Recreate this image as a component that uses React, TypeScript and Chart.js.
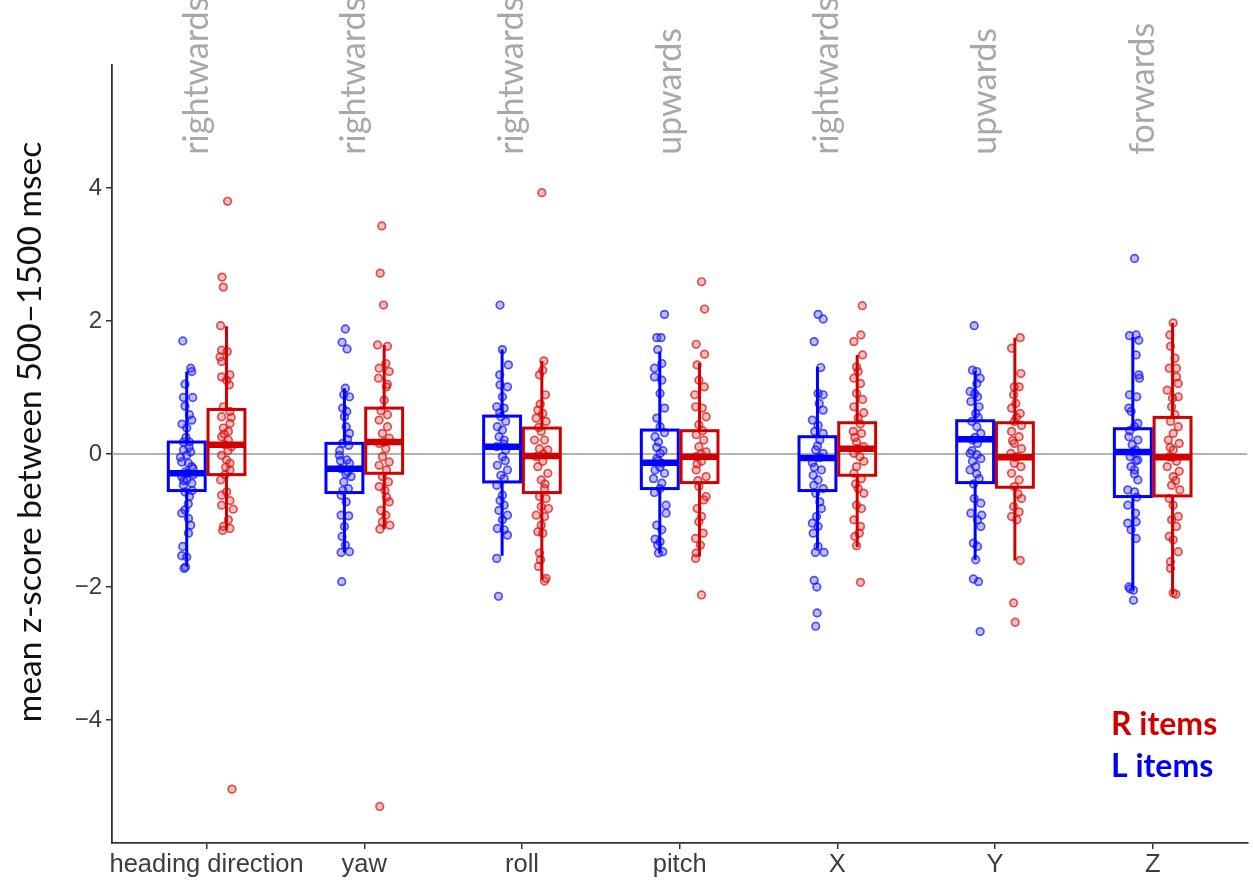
import React, { useEffect, useRef } from 'react';
import { Chart, registerables } from 'chart.js';

Chart.register(...registerables);

// ---------------- data ----------------
const categories = ['heading direction', 'yaw', 'roll', 'pitch', 'X', 'Y', 'Z'];
const directionLabels = ['rightwards', 'rightwards', 'rightwards', 'upwards', 'rightwards', 'upwards', 'forwards'];
const yTickValues = [-4, -2, 0, 2, 4];
const yAxisTitle = 'mean z-score between 500–1500 msec';
const legendR = 'R items';
const legendL = 'L items';

// box statistics per category (L items = blue, R items = red)
const lLow = [-1.69, -1.48, -1.53, -1.49, -1.42, -1.59, -2.05];
const lQ1 = [-0.55, -0.58, -0.42, -0.52, -0.55, -0.43, -0.64];
const lMed = [-0.29, -0.22, 0.11, -0.13, -0.06, 0.22, 0.03];
const lQ3 = [0.18, 0.16, 0.57, 0.36, 0.26, 0.5, 0.38];
const lHigh = [1.24, 0.99, 1.57, 1.54, 1.31, 1.25, 1.76];

const rLow = [-1.14, -1.13, -1.89, -1.54, -1.4, -1.6, -2.11];
const rQ1 = [-0.31, -0.29, -0.58, -0.43, -0.32, -0.5, -0.63];
const rMed = [0.14, 0.18, -0.03, -0.04, 0.08, -0.05, -0.05];
const rQ3 = [0.67, 0.69, 0.39, 0.35, 0.47, 0.47, 0.55];
const rHigh = [1.92, 1.64, 1.4, 1.37, 1.49, 1.75, 1.97];

// jittered points: [horizontal jitter (category units), value]
const headingL: [number, number][] = [
  [-0.025, 1.7], [0.025, 1.29], [0.032, 1.24], [-0.011, 1.05], [-0.021, 0.85], [0.038, 0.85], [-0.011, 0.72],
  [0.017, 0.59], [0.032, 0.51], [0, 0.39], [-0.021, 0.18], [0.017, 0.18], [-0.021, 0.06], [0.025, 0.03],
  [0, -0.02], [-0.032, -0.12], [0.011, -0.14], [0.032, -0.19], [-0.011, -0.27], [-0.032, -0.34], [0.042, -0.31],
  [0, -0.39], [-0.021, -0.47], [0.032, -0.44], [-0.011, -0.57], [0.017, -0.64], [-0.011, -0.84], [-0.032, -0.89],
  [0.011, -0.97], [0.025, -1.07], [0.011, -1.19], [-0.025, -1.39], [-0.032, -1.53], [0, -1.55], [-0.017, -1.72],
  [-0.008, -1.7], [0.04, -0.22], [-0.04, -0.05], [0.004, -0.29], [0.015, 0.1], [-0.005, 0.25], [0.035, -0.55],
  [-0.02, -0.4], [0.01, -0.75], [-0.03, 0.45],
];
const headingR: [number, number][] = [
  [-0.037, 1.93], [-0.02, 2.51], [-0.028, 2.66], [0.007, 3.8], [0.035, -5.04], [-0.031, 1.56], [0.005, 1.54],
  [-0.041, 1.46], [-0.031, 1.39], [-0.031, 1.16], [0.022, 1.19], [0.001, 1.11], [0.018, 1.04], [-0.02, 0.71],
  [0.022, 0.64], [-0.031, 0.56], [0.022, 0.46], [-0.02, 0.39], [0.012, 0.34], [-0.031, 0.26], [0.012, 0.21],
  [-0.009, 0.14], [0.033, 0.11], [-0.031, -0.02], [0.001, -0.09], [0.022, -0.14], [-0.037, -0.39], [0.022, -0.24],
  [-0.009, -0.31], [0.001, -0.57], [-0.031, -0.62], [0.022, -0.7], [-0.031, -0.77], [0.043, -0.83], [0.012, -0.99],
  [-0.02, -1.09], [0.022, -1.12], [-0.024, -1.15], [0.01, 0.05], [-0.015, 0.3], [0.03, 0.55], [-0.005, -0.2],
];
const yawL: [number, number][] = [
  [0.006, 1.88], [-0.015, 1.68], [0.017, 1.58], [0.006, 0.99], [-0.004, 0.89], [0.032, 0.86], [-0.011, 0.69],
  [0.015, 0.64], [0, 0.56], [0.011, 0.41], [0.032, 0.31], [-0.011, 0.16], [0.027, 0.13], [-0.032, -0.02],
  [0.015, -0.09], [0.032, -0.14], [-0.021, -0.22], [0.021, -0.27], [0.042, -0.34], [-0.004, -0.42], [0.025, -0.52],
  [-0.021, -0.62], [0.011, -0.72], [-0.021, -0.92], [0.027, -0.93], [0, -1.09], [-0.015, -1.24], [0.006, -1.37],
  [-0.021, -1.48], [0.032, -1.47], [-0.017, -1.92], [-0.03, 0.05], [0.01, -0.3], [-0.01, -0.55], [0.02, 0.22],
  [-0.025, -0.1],
];
const yawR: [number, number][] = [
  [-0.004, 2.24], [-0.025, 2.72], [-0.015, 3.43], [-0.028, -5.3], [-0.042, 1.64], [0.021, 1.62], [0.011, 1.36],
  [-0.032, 1.29], [0.032, 1.24], [-0.036, 1.14], [0.015, 1.01], [0, 0.81], [0.021, 0.59], [-0.032, 0.51],
  [0.021, 0.41], [-0.011, 0.31], [0.032, 0.24], [-0.032, 0.16], [0.011, 0.08], [-0.011, -0.04], [0.032, -0.12],
  [-0.032, -0.17], [0.015, -0.24], [-0.011, -0.34], [0.027, -0.42], [-0.032, -0.49], [0.015, -0.65], [0.032, -0.72],
  [-0.021, -0.85], [0.011, -0.92], [-0.011, -1.02], [0.036, -1.07], [-0.027, -1.13], [0, 0.18], [-0.02, 0.65],
  [0.02, 1.05], [0.005, -0.55],
];
const rollL: [number, number][] = [
  [-0.013, 2.24], [0.002, 1.57], [0.04, 1.34], [-0.015, 1.19], [-0.013, 1.04], [0.034, 1.01], [0.002, 0.86],
  [-0.034, 0.71], [0.013, 0.69], [-0.008, 0.56], [0.023, 0.49], [-0.03, 0.41], [0.002, 0.36], [-0.019, 0.26],
  [0.013, 0.21], [-0.034, 0.11], [0.023, 0.06], [0.002, -0.04], [-0.03, -0.17], [0.034, -0.24], [-0.008, -0.32],
  [0.013, -0.37], [-0.034, -0.47], [0.002, -0.62], [-0.013, -0.7], [0.013, -0.77], [0.034, -0.92], [0.002, -0.99],
  [-0.03, -1.12], [0.013, -1.14], [0.034, -1.22], [-0.034, -1.57], [-0.023, -2.14], [0.01, 0.15], [-0.015, 0.62],
  [0.02, -0.1], [-0.02, -0.85],
];
const rollR: [number, number][] = [
  [0, 3.93], [0.013, 1.4], [-0.015, 1.19], [0.006, 1.26], [0.023, 0.89], [-0.025, 0.66], [0.006, 0.61],
  [-0.036, 0.54], [0.027, 0.49], [-0.004, 0.34], [-0.046, 0.21], [0.017, 0.21], [-0.015, 0.08], [0.038, 0.06],
  [-0.036, -0.04], [0.006, -0.11], [-0.025, -0.19], [0.038, -0.29], [-0.004, -0.39], [0.017, -0.52], [-0.015, -0.64],
  [0.027, -0.67], [-0.004, -0.79], [0.042, -0.82], [-0.036, -0.92], [0.017, -0.94], [-0.004, -1.07], [-0.025, -1.17],
  [0.006, -1.19], [-0.015, -1.49], [-0.008, -1.59], [-0.021, -1.69], [0.027, -1.87], [0.017, -1.91], [0.01, 0],
  [-0.02, 0.4], [0.02, -0.45], [-0.01, 0.75],
];
const pitchL: [number, number][] = [
  [0.03, 2.1], [-0.019, 1.75], [0.008, 1.75], [-0.013, 1.57], [0.013, 1.36], [-0.034, 1.29], [-0.034, 1.16],
  [0.013, 1.11], [0.002, 0.91], [0.03, 0.69], [-0.019, 0.54], [0.002, 0.41], [0.03, 0.32], [-0.03, 0.26],
  [-0.008, 0.18], [0.002, 0.01], [-0.019, -0.07], [0.013, -0.14], [-0.03, -0.24], [0.03, -0.29], [-0.04, -0.37],
  [0.013, -0.44], [0.002, -0.52], [-0.034, -0.58], [0.04, -0.77], [0.04, -0.89], [-0.019, -1.07], [0.013, -1.14],
  [-0.03, -1.28], [0.002, -1.32], [-0.013, -1.37], [-0.008, -1.49], [0.019, -1.47], [-0.01, -0.1], [0.02, 0.05],
  [0, -0.2], [-0.02, 0.1],
];
const pitchR: [number, number][] = [
  [0.013, 2.59], [0.032, 2.18], [-0.021, 1.65], [0.032, 1.5], [-0.015, 1.34], [-0.004, 1.11], [0.03, 1.01],
  [-0.03, 0.89], [0.017, 0.69], [-0.025, 0.71], [0.042, 0.56], [-0.004, 0.44], [-0.021, 0.29], [0.027, 0.21],
  [-0.004, 0.11], [0.042, 0.03], [-0.021, -0.04], [0.013, -0.11], [-0.021, -0.24], [0.042, -0.34], [-0.004, -0.49],
  [0.042, -0.64], [0.027, -0.69], [-0.015, -0.82], [0.013, -0.94], [-0.004, -1.02], [0.023, -1.19], [-0.025, -1.27],
  [0.006, -1.37], [-0.021, -1.49], [-0.025, -1.57], [0.013, -2.12], [0.01, 0], [-0.015, -0.15], [0.02, 0.35],
  [-0.01, -0.4],
];
const xL: [number, number][] = [
  [0.004, 2.1], [0.036, 2.03], [-0.021, 1.69], [0.021, 1.3], [0.004, 0.91], [0.036, 0.89], [0.011, 0.76],
  [0.036, 0.66], [-0.032, 0.51], [0.004, 0.43], [-0.017, 0.34], [0.036, 0.31], [0.015, 0.21], [-0.011, 0.06],
  [0.036, 0.01], [0.004, -0.05], [-0.032, -0.13], [0.025, -0.24], [-0.027, -0.32], [0.004, -0.39], [-0.023, -0.47],
  [0.036, -0.52], [-0.011, -0.59], [0.015, -0.72], [0.025, -0.82], [-0.006, -0.94], [-0.032, -1.04], [0.004, -1.09],
  [-0.027, -1.19], [0.004, -1.39], [-0.013, -1.48], [0.042, -1.48], [-0.021, -1.9], [-0.004, -2.0], [-0.002, -2.39],
  [-0.011, -2.59], [0, 0.12], [-0.02, -0.2], [0.02, -0.05],
];
const xR: [number, number][] = [
  [0.032, 2.23], [0.023, 1.79], [-0.021, 1.69], [0.034, 1.49], [-0.004, 1.31], [0.006, 1.24], [-0.021, 1.14],
  [0.021, 1.06], [-0.004, 0.91], [0.034, 0.82], [-0.021, 0.71], [0.042, 0.62], [0.006, 0.54], [-0.025, 0.34],
  [0.027, 0.31], [-0.004, 0.18], [0.042, 0.11], [-0.021, 0.01], [0.017, -0.04], [0.042, -0.11], [-0.004, -0.19],
  [-0.021, -0.29], [0.027, -0.37], [0.006, -0.52], [0.042, -0.59], [-0.004, -0.77], [0.027, -0.82], [-0.021, -0.99],
  [0.021, -1.09], [0.013, -1.19], [-0.015, -1.24], [-0.004, -1.38], [0.021, -1.93], [0, 0.08], [-0.015, 0.25],
  [0.02, 0.45], [-0.01, -0.45],
];
const yL: [number, number][] = [
  [-0.006, 1.93], [-0.017, 1.26], [0.011, 1.24], [0.032, 1.14], [0.011, 1.06], [-0.032, 0.94], [-0.002, 0.91],
  [0.015, 0.86], [-0.027, 0.79], [0.025, 0.71], [0.004, 0.61], [-0.021, 0.49], [0.011, 0.41], [0.036, 0.31],
  [-0.017, 0.21], [0.015, 0.16], [-0.032, 0.01], [0.011, -0.01], [0.036, -0.07], [-0.017, -0.11], [0.004, -0.19],
  [-0.032, -0.24], [0.025, -0.37], [-0.006, -0.67], [0.036, -0.74], [-0.027, -0.89], [0.042, -0.92], [0.015, -0.99],
  [0.036, -1.09], [-0.011, -1.34], [0.015, -1.39], [0.004, -1.59], [-0.011, -1.88], [0.021, -1.92], [0.032, -2.67],
  [0, 0.25], [-0.02, 0.05], [0.01, -0.3], [0.02, 0.55], [-0.01, -0.45],
];
const yR: [number, number][] = [
  [0.034, 1.75], [-0.021, 1.59], [0.038, 1.21], [-0.004, 1.01], [0.027, 1.01], [-0.008, 0.89], [0.006, 0.76],
  [-0.021, 0.69], [0.034, 0.61], [-0.004, 0.49], [0.042, 0.43], [-0.021, 0.34], [0.027, 0.26], [-0.004, 0.16],
  [0.042, 0.08], [-0.025, 0.01], [0.017, -0.04], [-0.004, -0.14], [0.038, -0.19], [-0.021, -0.29], [0.027, -0.39],
  [-0.004, -0.49], [0.042, -0.67], [-0.008, -0.79], [0.027, -0.87], [-0.021, -0.94], [0.013, -0.99], [0.034, -1.6],
  [-0.008, -2.24], [0.002, -2.53], [0, -0.05], [-0.015, 0.2], [0.02, -0.6], [0.01, 0.55],
];
const zL: [number, number][] = [
  [0.011, 2.94], [-0.021, 1.78], [0.021, 1.79], [0.038, 1.71], [0.021, 1.49], [0.038, 1.19], [0.042, 1.14],
  [-0.021, 0.89], [0.025, 0.86], [-0.025, 0.69], [-0.011, 0.64], [0.032, 0.46], [0.011, 0.41], [-0.025, 0.26],
  [0.032, 0.21], [-0.004, 0.14], [0.017, 0.06], [-0.017, -0.04], [0.032, -0.09], [-0.011, -0.19], [0.011, -0.24],
  [0.032, -0.39], [-0.032, -0.54], [0.011, -0.57], [0.025, -0.65], [-0.032, -0.77], [0.017, -0.89], [0.021, -1.02],
  [-0.032, -1.04], [-0.011, -1.14], [0.021, -1.27], [-0.025, -2.0], [-0.017, -2.03], [0.004, -2.05], [0.004, -2.2],
  [0, 0.03], [-0.02, 0.35], [0.01, -0.3], [0.02, -0.1],
];
const zR: [number, number][] = [
  [0.004, 1.97], [-0.017, 1.79], [-0.013, 1.62], [0.015, 1.44], [-0.021, 1.29], [0.025, 1.29], [0.025, 1.16],
  [0.036, 1.06], [-0.034, 0.96], [0, 0.84], [0.036, 0.86], [-0.006, 0.71], [0.015, 0.59], [-0.013, 0.49],
  [0.036, 0.41], [0.004, 0.31], [-0.027, 0.21], [0.042, 0.16], [0.004, 0.06], [-0.021, -0.04], [0.025, -0.11],
  [-0.034, -0.19], [0.042, -0.26], [0.004, -0.34], [-0.006, -0.47], [0.046, -0.54], [-0.021, -0.67], [0.004, -0.77],
  [0.036, -0.94], [-0.006, -0.99], [0.025, -1.09], [-0.021, -1.24], [0.004, -1.29], [0.036, -1.47], [-0.013, -1.62],
  [-0.013, -1.72], [0.004, -2.09], [0.021, -2.11], [0, -0.05], [-0.015, 0.1], [0.02, -0.4],
];

const pointsL = [headingL, yawL, rollL, pitchL, xL, yL, zL];
const pointsR = [headingR, yawR, rollR, pitchR, xR, yR, zR];

// ---------------- styling ----------------
const BLUE = '#0000FF';
const RED = '#D00000';
const DODGE = 0.126;
const BOX_W = 0.234;

const groups = [
  { offset: -DODGE, color: BLUE, low: lLow, q1: lQ1, med: lMed, q3: lQ3, high: lHigh },
  { offset: DODGE, color: RED, low: rLow, q1: rQ1, med: rMed, q3: rQ3, high: rHigh },
];

const toXY = (sets: [number, number][][], offset: number) =>
  sets.flatMap((pts, i) => pts.map(([dx, v]) => ({ x: i + 1 + offset + dx, y: v })));

const fmtMinus = (v: number) => (v < 0 ? '\u2212' + Math.abs(v) : String(v));

const boxPlugin = {
  id: 'boxesAndText',
  beforeDatasetsDraw(chart: any) {
    const { ctx, chartArea, scales } = chart;
    const y0 = scales.y.getPixelForValue(0);
    ctx.save();
    ctx.strokeStyle = '#9a9a9a';
    ctx.lineWidth = 1.5;
    ctx.beginPath();
    ctx.moveTo(chartArea.left, y0);
    ctx.lineTo(chartArea.right, y0);
    ctx.stroke();
    ctx.restore();
  },
  afterDatasetsDraw(chart: any) {
    const { ctx, scales } = chart;
    const xs = scales.x;
    const ys = scales.y;
    ctx.save();
    groups.forEach((g) => {
      categories.forEach((_, i) => {
        const c = i + 1 + g.offset;
        const cx = xs.getPixelForValue(c);
        const xl = xs.getPixelForValue(c - BOX_W / 2);
        const xr = xs.getPixelForValue(c + BOX_W / 2);
        const pLow = ys.getPixelForValue(g.low[i]);
        const pQ1 = ys.getPixelForValue(g.q1[i]);
        const pMed = ys.getPixelForValue(g.med[i]);
        const pQ3 = ys.getPixelForValue(g.q3[i]);
        const pHigh = ys.getPixelForValue(g.high[i]);
        ctx.strokeStyle = g.color;
        ctx.lineWidth = 3;
        ctx.beginPath();
        ctx.moveTo(cx, pHigh);
        ctx.lineTo(cx, pQ3);
        ctx.moveTo(cx, pQ1);
        ctx.lineTo(cx, pLow);
        ctx.stroke();
        ctx.strokeRect(xl, pQ3, xr - xl, pQ1 - pQ3);
        ctx.lineWidth = 6.5;
        ctx.beginPath();
        ctx.moveTo(xl, pMed);
        ctx.lineTo(xr, pMed);
        ctx.stroke();
      });
    });
    ctx.restore();
  },
  afterDraw(chart: any) {
    const { ctx, scales } = chart;
    const xs = scales.x;
    const ys = scales.y;
    ctx.save();
    // direction labels at top
    ctx.fillStyle = '#a8a8a8';
    ctx.font = '34px Lato, "Open Sans", sans-serif';
    ctx.textAlign = 'left';
    ctx.textBaseline = 'alphabetic';
    directionLabels.forEach((t, i) => {
      ctx.save();
      ctx.translate(xs.getPixelForValue(i + 1) + 1, ys.getPixelForValue(4.5));
      ctx.rotate(-Math.PI / 2);
      ctx.fillText(t, 0, 0);
      ctx.restore();
    });
    // y-axis title
    ctx.save();
    ctx.fillStyle = '#111111';
    ctx.font = '33.5px Lato, "Open Sans", sans-serif';
    ctx.textAlign = 'center';
    ctx.textBaseline = 'middle';
    ctx.translate(30, 432);
    ctx.rotate(-Math.PI / 2);
    ctx.fillText(yAxisTitle, 0, 0);
    ctx.restore();
    // legend text
    ctx.font = 'bold 32px Lato, "Open Sans", sans-serif';
    ctx.textAlign = 'left';
    ctx.fillStyle = RED;
    ctx.fillText(legendR, 1111, 735);
    ctx.fillStyle = BLUE;
    ctx.fillText(legendL, 1111, 777);
    ctx.restore();
  },
};

export default function App() {
  const ref = useRef<HTMLCanvasElement | null>(null);
  useEffect(() => {
    if (!ref.current) return;
    const chart = new Chart(ref.current, {
      type: 'scatter',
      data: {
        datasets: [
          {
            label: legendL,
            data: toXY(pointsL, -DODGE),
            pointRadius: 3.8,
            pointBorderWidth: 1.7,
            pointBackgroundColor: 'rgba(40,40,255,0.30)',
            pointBorderColor: 'rgba(20,20,255,0.72)',
          },
          {
            label: legendR,
            data: toXY(pointsR, DODGE),
            pointRadius: 3.8,
            pointBorderWidth: 1.7,
            pointBackgroundColor: 'rgba(230,40,40,0.30)',
            pointBorderColor: 'rgba(215,20,20,0.72)',
          },
        ],
      },
      options: {
        animation: false,
        responsive: false,
        maintainAspectRatio: false,
        layout: { padding: { top: 65, right: 3, left: 0, bottom: 0 } },
        plugins: { legend: { display: false }, tooltip: { enabled: false } },
        scales: {
          x: {
            type: 'linear',
            min: 0.4,
            max: 7.6,
            afterBuildTicks: (scale: any) => {
              scale.ticks = categories.map((_, i) => ({ value: i + 1 }));
            },
            afterFit: (scale: any) => {
              scale.height = 40;
            },
            ticks: {
              autoSkip: false,
              maxRotation: 0,
              padding: 1,
              color: '#3d3d3d',
              font: { family: '"Liberation Sans", Arial, sans-serif', size: 25.5 },
              callback: (v: any) => categories[Math.round(Number(v)) - 1] ?? '',
            },
            grid: { display: true, drawOnChartArea: false, drawTicks: true, tickLength: 6, color: '#333333', lineWidth: 1.5 },
            border: { display: true, color: '#333333', width: 1.8 },
          },
          y: {
            type: 'linear',
            min: -5.85,
            max: 5.85,
            afterBuildTicks: (scale: any) => {
              scale.ticks = yTickValues.map((v) => ({ value: v }));
            },
            afterFit: (scale: any) => {
              scale.width = 112;
            },
            ticks: {
              padding: 4,
              color: '#3d3d3d',
              font: { family: '"Liberation Sans", Arial, sans-serif', size: 24 },
              callback: (v: any) => fmtMinus(Number(v)),
            },
            grid: { display: true, drawOnChartArea: false, drawTicks: true, tickLength: 6, color: '#333333', lineWidth: 1.5 },
            border: { display: true, color: '#333333', width: 1.8 },
          },
        },
      },
      plugins: [boxPlugin],
    });
    return () => chart.destroy();
  }, []);

  return (
    <div style={{ position: 'absolute', left: 0, top: 0, width: 1253, height: 883, background: '#ffffff' }}>
      <canvas ref={ref} width={1253} height={883} style={{ display: 'block', width: 1253, height: 883 }} />
    </div>
  );
}
